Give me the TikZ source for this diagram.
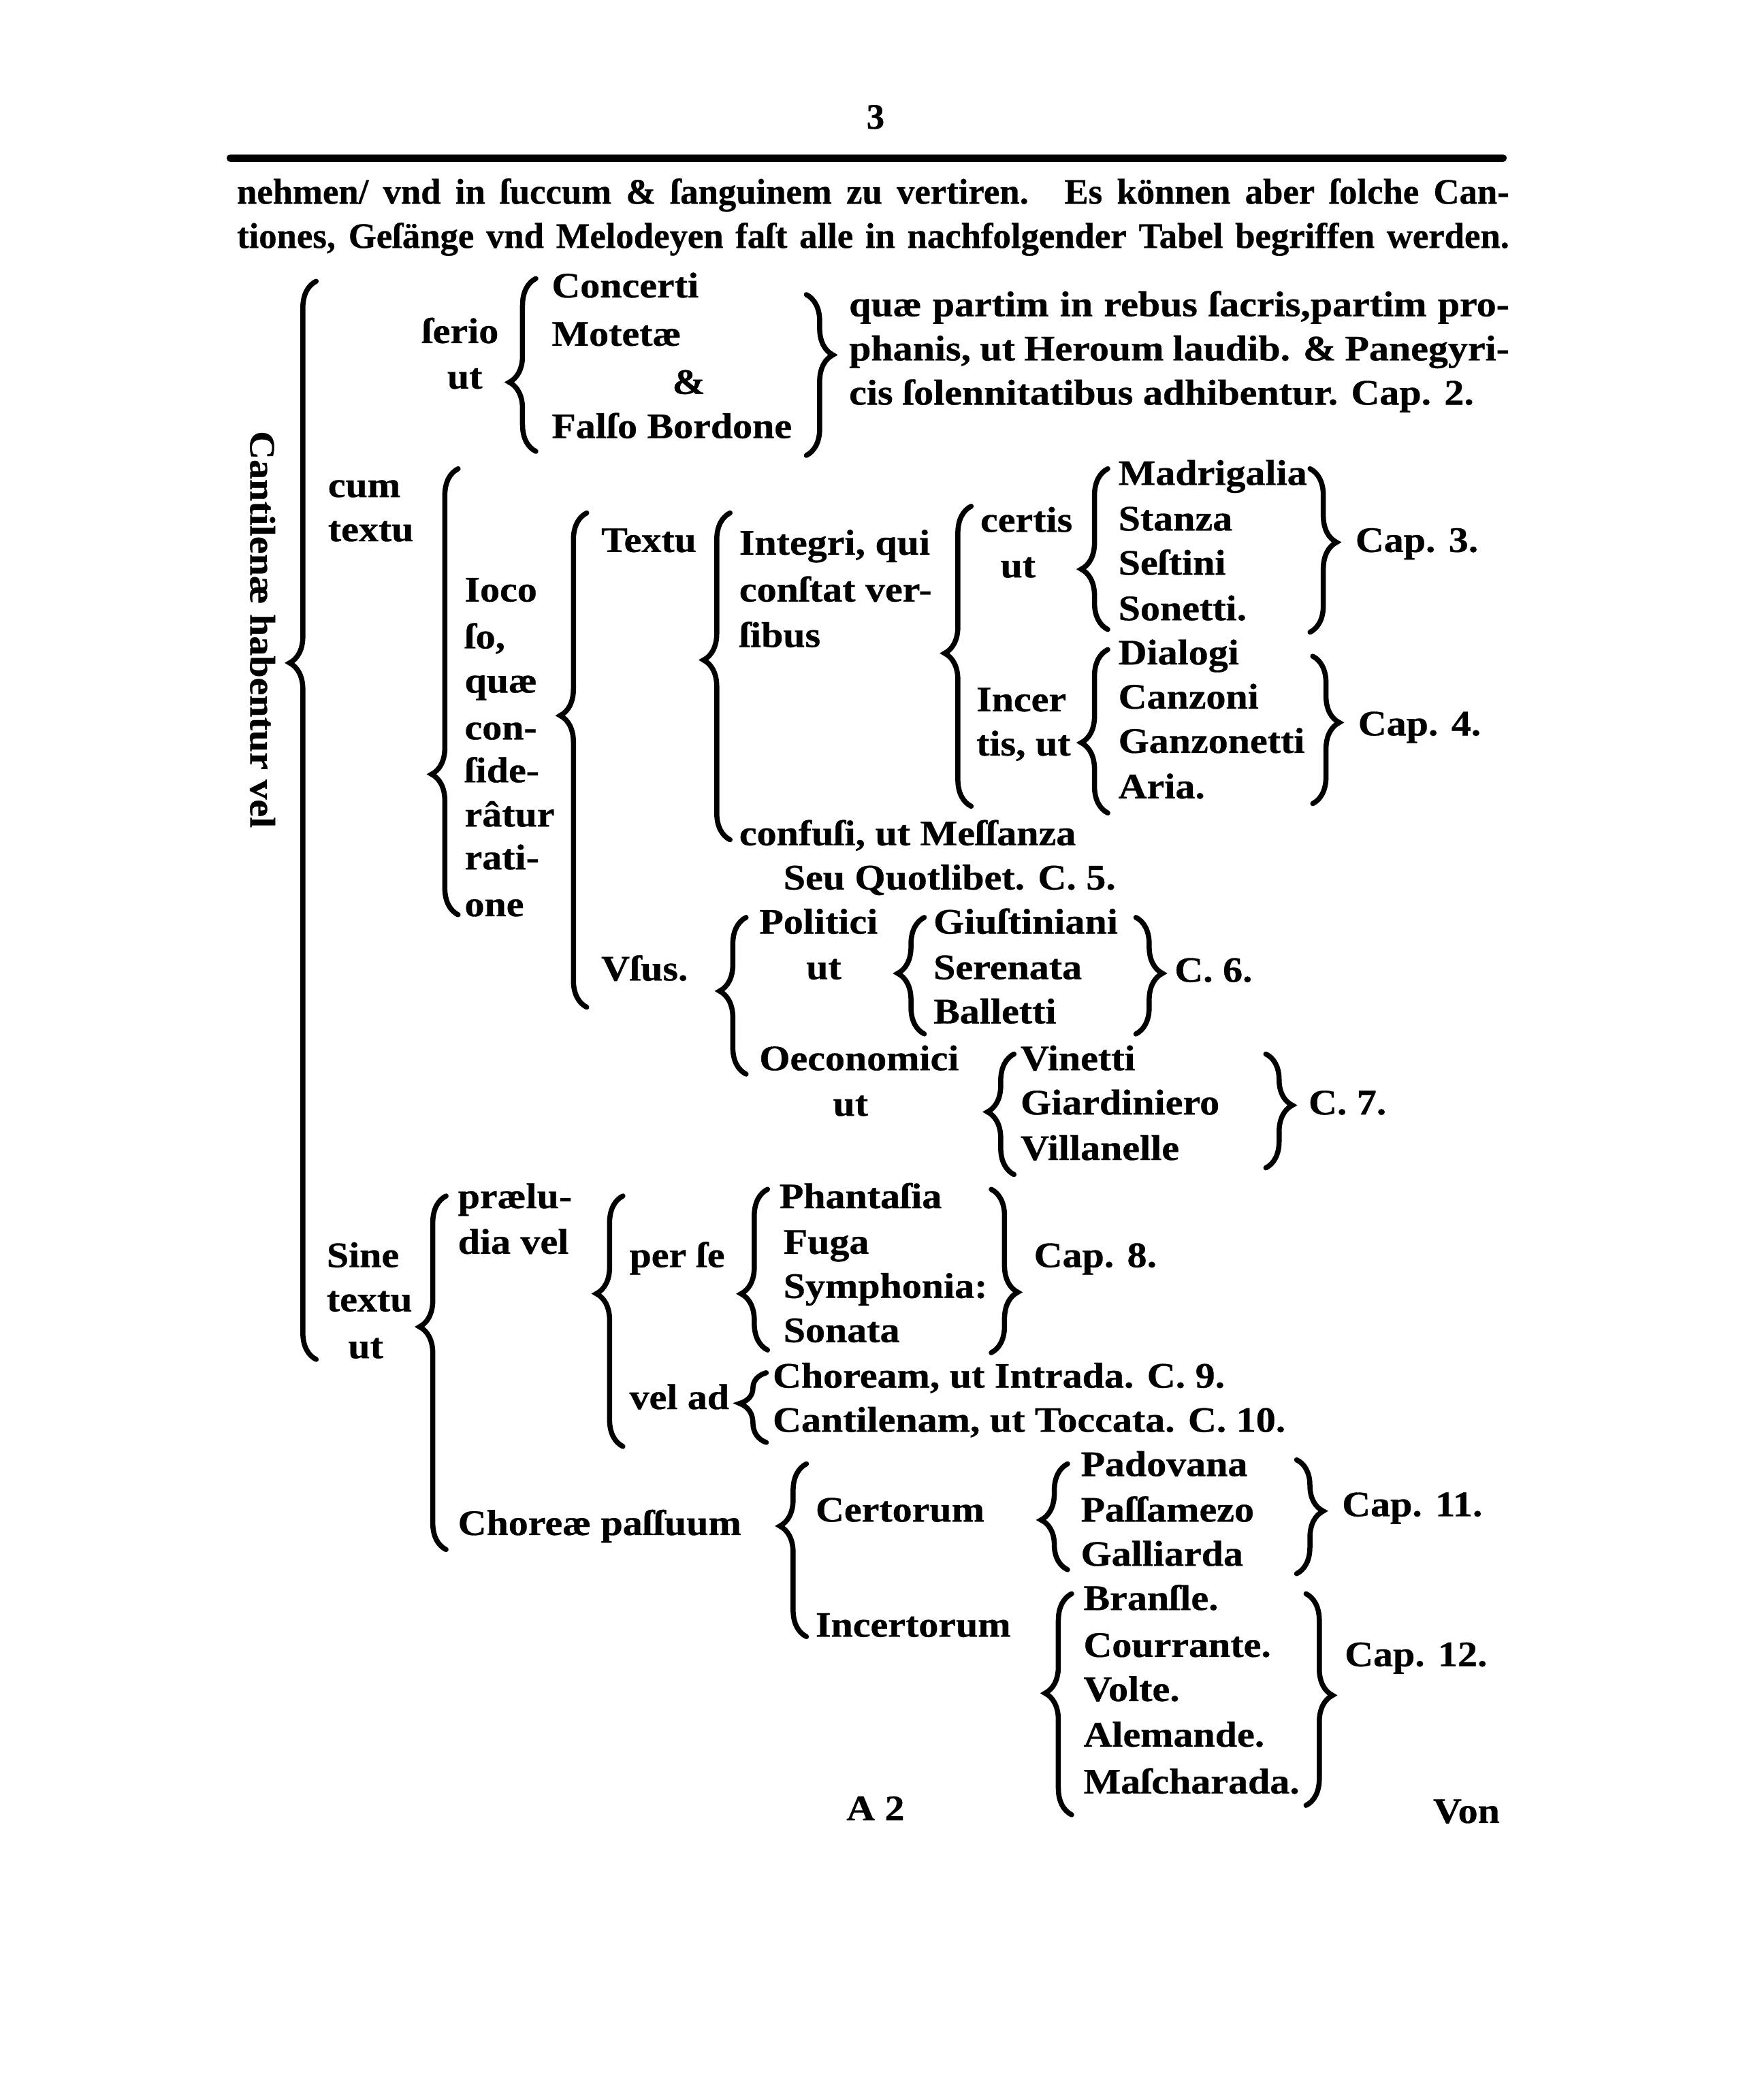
\documentclass[tikz,border=0pt]{standalone}
\usepackage{fontspec}
\setmainfont{Liberation Serif}[UprightFont={* Bold},FakeStretch=1.1,FakeBold=0.6]
\newfontfamily\hdrfont{Liberation Serif}[UprightFont={* Bold},FakeBold=0.6]
\usetikzlibrary{math}
\usetikzlibrary{decorations.pathreplacing}

\begin{document}
\begin{tikzpicture}[x=0.19678mm,y=-0.19678mm,line width=0.75mm,line cap=round,
  txt/.style={anchor=mid west,inner sep=0pt,font=\fontsize{15}{18}\selectfont},
  hdr/.style={anchor=mid west,inner sep=0pt,font=\hdrfont\fontsize{15}{18}\selectfont},
  lbrace/.style={decorate,decoration={brace,mirror,amplitude=\bamp mm,aspect=#1}},
  rbrace/.style={decorate,decoration={brace,amplitude=\bamp mm,aspect=#1}}]

  \tikzmath{
    \bamp = 3.9;   % amplitude of the braces
    \hw   = 186.9; % width of the head lines
    \pw   = 97.0;  % width of the justified lines at Cap. 2
  }

  % page
  \path[fill=white] (0,0) rectangle (1304,1568);

  % head of the page
  \node[hdr] (pg) at (645,92) {3};
  \coordinate (r1) at (172,118);
  \coordinate (r2) at (1122,118);
  \draw[line width=1.1mm] (r1) -- (r2);
  \node[hdr] (h1) at (175,148) {\makebox[\hw mm][s]{nehmen/ vnd in ſuccum \& ſanguinem zu vertiren.\quad Es können aber ſolche Can-}};
  \node[hdr] (h2) at (175,181) {\makebox[\hw mm][s]{tiones, Geſänge vnd Melodeyen faſt alle in nachfolgender Tabel begriffen werden.}};

  % root
  \node[txt,rotate=-90,anchor=center] (root) at (196,470) {Cantilenæ habentur vel};
  \coordinate (a1) at (236,210);
  \coordinate (a2) at (236,1015);
  \draw[lbrace=0.354] (a1) -- (a2);

  % serio
  \node[txt] (serio) at (313,252) {ſerio};
  \node[txt] (serut) at (332,286) {ut};
  \coordinate (b1) at (400,208);
  \coordinate (b2) at (400,337);
  \draw[lbrace=0.60] (b1) -- (b2);
  \node[txt] (conc) at (410,218) {Concerti};
  \node[txt] (mote) at (410,254) {Motetæ};
  \node[txt] (et) at (500,290) {\&};
  \node[txt] (falso) at (410,323) {Falſo Bordone};
  \coordinate (c1) at (602,220);
  \coordinate (c2) at (602,340);
  \draw[rbrace=0.375] (c1) -- (c2);
  \node[txt] (qa) at (632,232) {\makebox[\pw mm][s]{quæ partim in rebus ſacris,partim pro-}};
  \node[txt] (qb) at (632,265) {\makebox[\pw mm][s]{phanis, ut Heroum laudib. \& Panegyri-}};
  \node[txt] (qc) at (632,298) {cis ſolennitatibus adhibentur. Cap. 2.};

  % cum textu
  \node[txt] (cum) at (243,367) {cum};
  \node[txt] (cumt) at (243,400) {textu};
  \coordinate (d1) at (342,350);
  \coordinate (d2) at (342,683);
  \draw[lbrace=0.685] (d1) -- (d2);
  \node[txt] (jo1) at (345,445) {Ioco};
  \node[txt] (jo2) at (345,480) {ſo,};
  \node[txt] (jo3) at (345,513) {quæ};
  \node[txt] (jo4) at (345,548) {con-};
  \node[txt] (jo5) at (345,580) {ſide-};
  \node[txt] (jo6) at (345,613) {râtur};
  \node[txt] (jo7) at (345,645) {rati-};
  \node[txt] (jo8) at (345,680) {one};
  \coordinate (e1) at (438,383);
  \coordinate (e2) at (438,752);
  \draw[lbrace=0.41] (e1) -- (e2);

  % Textu
  \node[txt] (tex) at (447,408) {Textu};
  \coordinate (f1) at (545,383);
  \coordinate (f2) at (545,627);
  \draw[lbrace=0.45] (f1) -- (f2);
  \node[txt] (int1) at (550,410) {Integri, qui};
  \node[txt] (int2) at (550,445) {conſtat ver-};
  \node[txt] (int3) at (550,479) {ſibus};
  \node[txt] (conf) at (550,627) {confuſi, ut Meſſanza};
  \node[txt] (quot) at (583,660) {Seu Quotlibet. C. 5.};
  \coordinate (g1) at (725,378);
  \coordinate (g2) at (725,602);
  \draw[lbrace=0.49] (g1) -- (g2);
  \node[txt] (cer1) at (730,393) {certis};
  \node[txt] (cer2) at (745,427) {ut};
  \node[txt] (inc1) at (727,527) {Incer};
  \node[txt] (inc2) at (727,560) {tis, ut};

  % certis ut
  \coordinate (h1a) at (827,350);
  \coordinate (h1b) at (827,470);
  \draw[lbrace=0.625] (h1a) -- (h1b);
  \node[txt] (mad) at (833,358) {Madrigalia};
  \node[txt] (sta) at (833,392) {Stanza};
  \node[txt] (ses) at (833,425) {Seſtini};
  \node[txt] (son) at (833,459) {Sonetti.};
  \coordinate (h2a) at (978,350);
  \coordinate (h2b) at (978,472);
  \draw[rbrace=0.45] (h2a) -- (h2b);
  \node[txt] (cap3) at (1010,408) {Cap. 3.};

  % incertis ut
  \coordinate (i1a) at (827,485);
  \coordinate (i1b) at (827,607);
  \draw[lbrace=0.57] (i1a) -- (i1b);
  \node[txt] (dia) at (833,492) {Dialogi};
  \node[txt] (can) at (833,525) {Canzoni};
  \node[txt] (gan) at (833,558) {Ganzonetti};
  \node[txt] (ari) at (833,592) {Aria.};
  \coordinate (i2a) at (980,490);
  \coordinate (i2b) at (980,600);
  \draw[rbrace=0.45] (i2a) -- (i2b);
  \node[txt] (cap4) at (1012,545) {Cap. 4.};

  % Vsus
  \node[txt] (vsus) at (447,728) {Vſus.};
  \coordinate (j1) at (557,685);
  \coordinate (j2) at (557,802);
  \draw[lbrace=0.47] (j1) -- (j2);
  \node[txt] (pol) at (565,693) {Politici};
  \node[txt] (polut) at (600,727) {ut};
  \node[txt] (oec) at (565,795) {Oeconomici};
  \node[txt] (oecut) at (620,829) {ut};
  \coordinate (k1a) at (690,685);
  \coordinate (k1b) at (690,772);
  \draw[lbrace=0.48] (k1a) -- (k1b);
  \node[txt] (giu) at (695,693) {Giuſtiniani};
  \node[txt] (ser) at (695,727) {Serenata};
  \node[txt] (bal) at (695,760) {Balletti};
  \coordinate (k2a) at (848,685);
  \coordinate (k2b) at (848,772);
  \draw[rbrace=0.48] (k2a) -- (k2b);
  \node[txt] (cap6) at (875,729) {C. 6.};
  \coordinate (l1a) at (757,787);
  \coordinate (l1b) at (757,877);
  \draw[lbrace=0.48] (l1a) -- (l1b);
  \node[txt] (vin) at (760,795) {Vinetti};
  \node[txt] (gia) at (760,828) {Giardiniero};
  \node[txt] (vil) at (760,862) {Villanelle};
  \coordinate (l2a) at (945,787);
  \coordinate (l2b) at (945,872);
  \draw[rbrace=0.45] (l2a) -- (l2b);
  \node[txt] (cap7) at (975,828) {C. 7.};

  % Sine textu
  \node[txt] (sin1) at (242,942) {Sine};
  \node[txt] (sin2) at (242,975) {textu};
  \node[txt] (sin3) at (258,1010) {ut};
  \coordinate (m1) at (333,893);
  \coordinate (m2) at (333,1157);
  \draw[lbrace=0.37] (m1) -- (m2);
  \node[txt] (pra1) at (340,898) {prælu-};
  \node[txt] (pra2) at (340,932) {dia vel};
  \coordinate (n1) at (465,893);
  \coordinate (n2) at (465,1080);
  \draw[lbrace=0.39] (n1) -- (n2);
  \node[txt] (perse) at (468,942) {per ſe};
  \node[txt] (velad) at (468,1048) {vel ad};
  \coordinate (o1a) at (573,888);
  \coordinate (o1b) at (573,1008);
  \draw[lbrace=0.65] (o1a) -- (o1b);
  \node[txt] (pha) at (580,898) {Phantaſia};
  \node[txt] (fug) at (583,932) {Fuga};
  \node[txt] (sym) at (583,965) {Symphonia:};
  \node[txt] (sna) at (583,998) {Sonata};
  \coordinate (o2a) at (740,888);
  \coordinate (o2b) at (740,1010);
  \draw[rbrace=0.63] (o2a) -- (o2b);
  \node[txt] (cap8) at (770,942) {Cap. 8.};
  \coordinate (p1) at (572,1025);
  \coordinate (p2) at (572,1077);
  \draw[lbrace=0.44] (p1) -- (p2);
  \node[txt] (cho) at (575,1032) {Choream, ut Intrada. C. 9.};
  \node[txt] (cnt) at (575,1065) {Cantilenam, ut Toccata. C. 10.};

  % Choreae passuum
  \node[txt] (chp) at (340,1142) {Choreæ paſſuum};
  \coordinate (q1) at (602,1093);
  \coordinate (q2) at (602,1222);
  \draw[lbrace=0.36] (q1) -- (q2);
  \node[txt] (cto) at (607,1132) {Certorum};
  \node[txt] (ict) at (607,1218) {Incertorum};
  \coordinate (r1a) at (797,1093);
  \coordinate (r1b) at (797,1172);
  \draw[lbrace=0.53] (r1a) -- (r1b);
  \node[txt] (pad) at (805,1098) {Padovana};
  \node[txt] (pas) at (805,1132) {Paſſamezo};
  \node[txt] (gal) at (805,1165) {Galliarda};
  \coordinate (r2a) at (968,1090);
  \coordinate (r2b) at (968,1175);
  \draw[rbrace=0.45] (r2a) -- (r2b);
  \node[txt] (cap11) at (1000,1128) {Cap. 11.};
  \coordinate (s1a) at (800,1190);
  \coordinate (s1b) at (800,1355);
  \draw[lbrace=0.45] (s1a) -- (s1b);
  \node[txt] (bra) at (807,1198) {Branſle.};
  \node[txt] (cou) at (807,1233) {Courrante.};
  \node[txt] (vol) at (807,1266) {Volte.};
  \node[txt] (ale) at (807,1300) {Alemande.};
  \node[txt] (mas) at (807,1335) {Maſcharada.};
  \coordinate (s2a) at (975,1190);
  \coordinate (s2b) at (975,1348);
  \draw[rbrace=0.48] (s2a) -- (s2b);
  \node[txt] (cap12) at (1002,1240) {Cap. 12.};

  % foot of the page
  \node[txt] (sig) at (630,1355) {A 2};
  \node[txt] (cw) at (1068,1357) {Von};

\end{tikzpicture}
\end{document}
